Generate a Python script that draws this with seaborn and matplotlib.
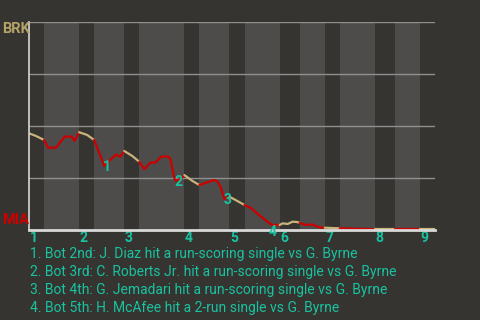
import numpy as np
import pandas as pd
import matplotlib
matplotlib.use("Agg")
import matplotlib.pyplot as plt
import matplotlib.transforms as mtransforms
import seaborn as sns

# ---- data ----
away, home = "BRK", "MIA"
innings = ["1", "2", "3", "4", "5", "6", "7", "8", "9"]
top_pa = [3, 3, 3, 3, 3, 4, 3, 4, 3]          # plate appearances, top halves
bot_pa = [7, 6, 9, 6, 7, 5, 7, 5]             # plate appearances, bottom halves

pa = [0, 1.4, 3, 3.8, 5.4, 7.1, 8.5, 9.1, 10, 11.6, 13, 15, 16.2, 17.4, 18.2, 19,
      20.6, 22, 23, 24.2, 25.2, 26.4, 27.8, 28.2, 29, 29.2, 30.2, 31, 32.6, 34,
      35.4, 36.8, 37.5, 38.2, 39, 40, 41.6, 43, 44.2, 45.5, 46.9, 48.2, 48.6, 50,
      50.6, 51.6, 52.6, 53.6, 54, 55.2, 56.5, 57.4, 58.2, 59, 62, 69, 73, 78, 81]
wp = [0.465, 0.452, 0.433, 0.396, 0.396, 0.449, 0.449, 0.429, 0.470, 0.457, 0.433,
      0.309, 0.337, 0.363, 0.352, 0.380, 0.356, 0.328, 0.292, 0.324, 0.324, 0.353,
      0.353, 0.341, 0.250, 0.238, 0.244, 0.264, 0.236, 0.216, 0.228, 0.240, 0.236,
      0.208, 0.149, 0.160, 0.139, 0.120, 0.107, 0.080, 0.053, 0.029, 0.024, 0.024,
      0.032, 0.029, 0.040, 0.038, 0.034, 0.024, 0.027, 0.017, 0.012, 0.011, 0.008,
      0.004, 0.004, 0.004, 0.004]

event_pa = [15, 29.2, 39, 48.0]
event_labels = ["1", "2", "3", "4"]
notes = [
    "1. Bot 2nd: J. Diaz hit a run-scoring single vs G. Byrne",
    "2. Bot 3rd: C. Roberts Jr. hit a run-scoring single vs G. Byrne",
    "3. Bot 4th: G. Jemadari hit a run-scoring single vs G. Byrne",
    "4. Bot 5th: H. McAfee hit a 2-run single vs G. Byrne",
]

# ---- style ----
BG = "#363430"
BAND = "#4d4c4a"
BEIGE = "#c9b37c"
BRK_TXT = "#b5a469"
RED = "#cc0000"
TEAL = "#19c2a0"

sns.set_style("dark")
plt.rcParams["font.family"] = ["Roboto", "DejaVu Sans"]

fig = plt.figure(figsize=(4.8, 3.2), dpi=100, facecolor=BG)
ax = fig.add_axes([29 / 480, 1 - 230 / 320, 406 / 480, 208 / 320])
ax.set_facecolor(BG)

# half-inning boundaries
halves = []
start = 0
for i in range(len(innings)):
    halves.append(("top", i, start, start + top_pa[i]))
    start += top_pa[i]
    if i < len(bot_pa):
        halves.append(("bot", i, start, start + bot_pa[i]))
        start += bot_pa[i]
total = start

for kind, i, s, e in halves:
    ax.axvspan(s, e, color=BG if kind == "top" else BAND, lw=0, zorder=0)

# horizontal grid
for yv in [0.25, 0.5, 0.75, 1.0]:
    ax.axhline(yv, color="#8f8f8f", lw=1.0, zorder=1)

# line, segmented by half inning
pa_arr = np.array(pa)
wp_arr = np.array(wp)
rows = []
palette = {}
for k, (kind, i, s, e) in enumerate(halves):
    m = (pa_arr >= s - 1e-9) & (pa_arr <= e + 1e-9)
    seg = f"s{k}"
    palette[seg] = BEIGE if kind == "top" else RED
    for x, y in zip(pa_arr[m], wp_arr[m]):
        rows.append({"pa": x, "wp": y, "seg": seg})
df = pd.DataFrame(rows)
sns.lineplot(data=df, x="pa", y="wp", hue="seg", palette=palette, estimator=None,
             legend=False, lw=1.6, ax=ax, zorder=3)

ax.set_xlim(0, total)
ax.set_ylim(0, 1)
ax.set_xticks([])
ax.set_yticks([])
ax.set_xlabel("")
ax.set_ylabel("")
for sp in ["top", "right"]:
    ax.spines[sp].set_visible(False)
ax.spines["left"].set_color("#d8d8d8")
ax.spines["left"].set_linewidth(1.2)
ax.spines["bottom"].set_color("#d8d8d8")
ax.spines["bottom"].set_linewidth(2.0)
ax.spines["left"].set_zorder(4)
ax.spines["bottom"].set_zorder(4)

# event markers
for x, lab in zip(event_pa, event_labels):
    y = np.interp(x, pa_arr, wp_arr)
    dy = -1 if y > 0.05 else -6
    ax.annotate(lab, (x, y), xytext=(2, dy), textcoords="offset points",
                ha="center", va="center", color=TEAL, fontsize=10,
                fontweight="bold", zorder=5, annotation_clip=False)

# inning labels
trans = mtransforms.blended_transform_factory(ax.transData, ax.transAxes)
for kind, i, s, e in halves:
    if kind == "top":
        ax.annotate(innings[i], (s, -0.04), xycoords=trans, xytext=(0.5, 0),
                    textcoords="offset points", ha="left", va="center",
                    color=TEAL, fontsize=10, fontweight="bold",
                    annotation_clip=False)

# team labels
fig.text(2 / 480, 1 - 29 / 320, away, ha="left", va="center", color=BRK_TXT,
         fontsize=10.5, fontweight="bold")
fig.text(2 / 480, 1 - 220 / 320, home, ha="left", va="center", color=RED,
         fontsize=10.5, fontweight="bold")

# notes
for j, t in enumerate(notes):
    fig.text(30 / 480, 1 - (254 + 18 * j) / 320, t, ha="left", va="center",
             color=TEAL, fontsize=10)

fig.savefig("out.png", dpi=100, facecolor=BG)
